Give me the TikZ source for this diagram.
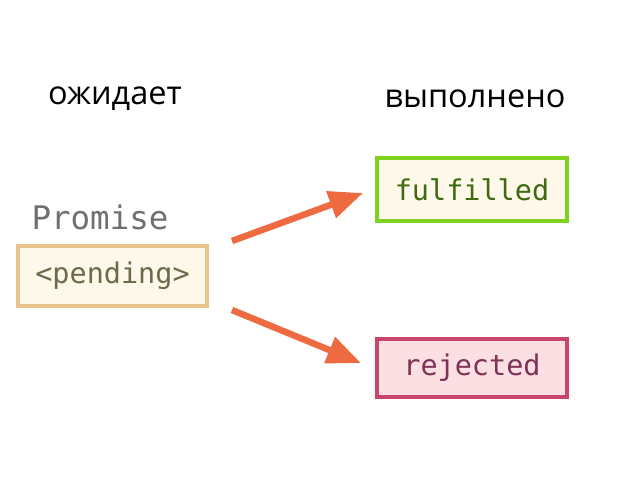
\documentclass[tikz,border=0pt]{standalone}
\usepackage{fontspec}
\setmainfont{Open Sans}
\newfontfamily\monofont{DejaVu Sans Mono}
\usetikzlibrary{arrows.meta}
\definecolor{cream}{HTML}{FDF8EA}
\definecolor{tanborder}{HTML}{E9C58B}
\definecolor{pendtext}{HTML}{6B6B4B}
\definecolor{greenborder}{HTML}{7ED321}
\definecolor{greentext}{HTML}{3E6B10}
\definecolor{redborder}{HTML}{C9456D}
\definecolor{pinkfill}{HTML}{FCDFE3}
\definecolor{redtext}{HTML}{7C3356}
\definecolor{arrowcol}{HTML}{EE6A40}
\definecolor{graytext}{HTML}{707070}
\tikzset{
  statebox/.style={draw, line width=4pt, inner sep=0pt, font=\monofont\fontsize{28.5}{31}\selectfont},
  heading/.style={font=\fontsize{32.5}{36}\selectfont, text=black},
  bigarrow/.style={arrowcol, line width=6.5pt, -{Triangle[length=34pt,width=27pt]}, shorten >=0pt}
}
\begin{document}
\begin{tikzpicture}[x=1pt,y=-1pt]
\useasboundingbox (0,0) rectangle (640,480);
\node[heading] (wait) at (115,99) {ожидает};
\node[heading] (done) at (475,99) {выполнено};
\node[font=\monofont\fontsize{32.5}{35}\selectfont, text=graytext] (prom) at (100,217) {Promise};
\node[statebox, draw=tanborder, fill=cream, text=pendtext, minimum width=189pt, minimum height=60pt] (pend) at (112.5,276) {<pending>};
\node[statebox, draw=greenborder, fill=cream, text=greentext, minimum width=190pt, minimum height=63pt] (ful) at (472,189.5) {fulfilled};
\node[statebox, draw=redborder, fill=pinkfill, text=redtext, minimum width=190pt, minimum height=58pt] (rej) at (472,368) {rejected};
\coordinate (a1s) at (232,241);
\coordinate (a1e) at (363,193);
\coordinate (a2s) at (232,310);
\coordinate (a2e) at (361,363);
\draw[bigarrow] (a1s) -- (a1e);
\draw[bigarrow] (a2s) -- (a2e);
\end{tikzpicture}
\end{document}
